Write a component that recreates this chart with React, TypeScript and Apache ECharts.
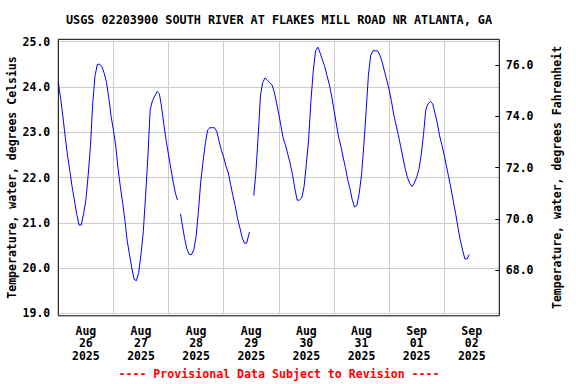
import React, { useEffect, useRef } from "react";
import * as echarts from "echarts";

// Hours since Aug 26 2025 00:00
const hours = [
  0, 1, 2, 3, 4, 5, 6, 7, 8, 9, 10, 11, 12, 13, 14, 15, 16, 17, 18, 19, 20, 21, 22, 23,
  24, 25, 26, 27, 28, 29, 30, 31, 32, 33, 34, 35, 36, 37, 38, 39, 40, 41, 42, 43, 44, 45, 46, 47,
  48, 49, 50, 51, 51.9, 52.5, 53.2, 54, 55, 56, 57, 58, 59, 60, 61, 62, 63, 64, 65, 66, 67, 68, 69, 70, 71,
  72, 73, 74, 75, 76, 77, 78, 79, 80, 81, 82, 83, 83.3, 84.2, 85.1, 86, 87, 88, 89, 90, 91, 92, 93, 94, 95,
  96, 97, 98, 99, 100, 101, 102, 103, 104, 105, 106, 107, 108, 109, 110, 111, 112, 113, 114, 115, 116, 117, 118, 119,
  120, 121, 122, 123, 124, 125, 126, 127, 128, 129, 130, 131, 132, 133, 134, 135, 136, 137, 138, 139, 140, 141, 142, 143,
  144, 145, 146, 147, 148, 149, 150, 151, 152, 153, 154, 155, 156, 157, 158, 159, 160, 161, 162, 163, 164, 165, 166, 167,
  168, 169, 170, 171, 172, 173, 174, 175, 176, 177, 178, 178.9,
];

// Water temperature, degrees Celsius (null = missing record)
const tempC: (number | null)[] = [
  24.1, 23.75, 23.35, 22.9, 22.5, 22.15, 21.8, 21.5, 21.2, 20.95, 20.95, 21.2, 21.5, 22.05, 22.7, 23.65, 24.25, 24.5, 24.5, 24.45, 24.3, 24.1, 23.75, 23.35,
  23.05, 22.7, 22.2, 21.8, 21.45, 21.05, 20.6, 20.3, 20.0, 19.75, 19.72, 19.9, 20.3, 20.8, 21.6, 22.45, 23.5, 23.7, 23.8, 23.9, 23.85, 23.55, 23.15, 22.8,
  22.5, 22.2, 21.9, 21.65, 21.5, null, 21.2, 20.95, 20.65, 20.42, 20.3, 20.3, 20.4, 20.7, 21.25, 21.9, 22.35, 22.75, 23.05, 23.1, 23.1, 23.1, 23.02, 22.8, 22.6,
  22.45, 22.25, 22.1, 21.85, 21.6, 21.38, 21.1, 20.9, 20.68, 20.55, 20.55, 20.75, 20.8, null, 21.6, 22.1, 22.9, 23.8, 24.1, 24.2, 24.15, 24.1, 24.05, 23.9, 23.65,
  23.4, 23.12, 22.85, 22.7, 22.5, 22.3, 22.05, 21.75, 21.5, 21.5, 21.55, 21.8, 22.3, 22.85, 23.7, 24.35, 24.8, 24.88, 24.75, 24.6, 24.45, 24.25, 24.05, 23.8,
  23.5, 23.2, 22.9, 22.7, 22.45, 22.22, 21.95, 21.75, 21.5, 21.35, 21.38, 21.65, 22.05, 22.7, 23.45, 24.25, 24.7, 24.8, 24.8, 24.8, 24.7, 24.55, 24.35, 24.15,
  23.95, 23.7, 23.4, 23.17, 22.95, 22.7, 22.45, 22.2, 22.0, 21.87, 21.8, 21.88, 22.0, 22.18, 22.5, 22.95, 23.5, 23.63, 23.68, 23.63, 23.42, 23.2, 22.92, 22.72,
  22.5, 22.25, 22.0, 21.75, 21.47, 21.2, 20.9, 20.62, 20.4, 20.2, 20.2, 20.3,
];

const dayMonths = ["Aug", "Aug", "Aug", "Aug", "Aug", "Aug", "Sep", "Sep"];
const dayNumbers = ["26", "27", "28", "29", "30", "31", "01", "02"];
const dayYears = ["2025", "2025", "2025", "2025", "2025", "2025", "2025", "2025"];
const fahrenheitTicks = [68, 70, 72, 74, 76];

const titleText = "USGS 02203900 SOUTH RIVER AT FLAKES MILL ROAD NR ATLANTA, GA";
const footerText = "---- Provisional Data Subject to Revision ----";
const leftAxisName = "Temperature, water, degrees Celsius";
const rightAxisName = "Temperature, water, degrees Fahrenheit";

const FONT = "'DejaVu Sans Mono', 'Liberation Mono', monospace";

export default function App() {
  const ref = useRef<HTMLDivElement>(null);

  useEffect(() => {
    if (!ref.current) return;
    const chart = echarts.init(ref.current, undefined, { renderer: "svg" });
    const data = hours.map((h, i) => [h, tempC[i]]);
    const dayCenters = dayNumbers.map((_, i) => 12 + 24 * i);

    chart.setOption({
      animation: false,
      backgroundColor: "#ffffff",
      grid: {
        left: 58.3,
        right: 76.7,
        top: 41.7,
        bottom: 70.7,
        containLabel: false,
        outerBoundsMode: "none",
      },
      xAxis: {
        type: "value",
        min: 0,
        max: 192,
        interval: 24,
        axisLine: { show: false },
        axisTick: { show: false },
        splitLine: { show: true, lineStyle: { color: "#cccccc", width: 1 } },
        axisLabel: {
          customValues: dayCenters,
          margin: 11,
          color: "#000",
          fontFamily: FONT,
          fontWeight: "bold",
          fontSize: 11.5,
          lineHeight: 12.8,
          formatter: (v: number) => {
            const i = Math.round((v - 12) / 24);
            return `${dayMonths[i]}\n${dayNumbers[i]}\n${dayYears[i]}`;
          },
        },
      },
      yAxis: [
        {
          type: "value",
          min: 19,
          max: 25,
          interval: 1,
          position: "left",
          name: leftAxisName,
          nameLocation: "middle",
          nameRotate: 90,
          nameGap: 40,
          nameMoveOverlap: false,
          nameTextStyle: { color: "#000", fontFamily: FONT, fontWeight: "bold", fontSize: 11.5 },
          axisLine: { show: false },
          axisTick: { show: false },
          splitLine: { show: true, lineStyle: { color: "#cccccc", width: 1 } },
          axisLabel: {
            margin: 8,
            color: "#000",
            fontFamily: FONT,
            fontWeight: "bold",
            fontSize: 11.5,
            formatter: (v: number) => v.toFixed(1),
          },
        },
        {
          type: "value",
          min: 66.31,
          max: 76.91,
          position: "right",
          name: rightAxisName,
          nameLocation: "middle",
          nameRotate: 90,
          nameGap: 52,
          nameMoveOverlap: false,
          nameTextStyle: { color: "#000", fontFamily: FONT, fontWeight: "bold", fontSize: 11.5 },
          axisLine: { show: false },
          axisTick: {
            show: true,
            inside: true,
            length: 4,
            customValues: fahrenheitTicks,
            lineStyle: { color: "#000", width: 1 },
          },
          splitLine: { show: false },
          axisLabel: {
            customValues: fahrenheitTicks,
            margin: 6.5,
            color: "#000",
            fontFamily: FONT,
            fontWeight: "bold",
            fontSize: 11.5,
            formatter: (v: number) => v.toFixed(1),
          },
        },
      ],
      graphic: [
        {
          type: "rect",
          shape: { x: 58.3, y: 39.3, width: 441, height: 276.5 },
          style: { fill: "none", stroke: "#000", lineWidth: 1 },
          z: 100,
          silent: true,
        },
        {
          type: "text",
          x: 279,
          y: 20,
          style: {
            text: titleText,
            textAlign: "center",
            textVerticalAlign: "middle",
            fill: "#000",
            font: `bold 11.8px ${FONT}`,
          },
        },
        {
          type: "text",
          x: 279,
          y: 374,
          style: {
            text: footerText,
            textAlign: "center",
            textVerticalAlign: "middle",
            fill: "#ff0000",
            font: `bold 11.6px ${FONT}`,
          },
        },
      ],
      series: [
        {
          type: "line",
          yAxisIndex: 0,
          data,
          showSymbol: false,
          connectNulls: false,
          lineStyle: { color: "#0000ff", width: 1 },
          itemStyle: { color: "#0000ff" },
        },
      ],
    });

    return () => chart.dispose();
  }, []);

  return (
    <div
      ref={ref}
      style={{ position: "fixed", left: 0, top: 0, width: 576, height: 384, background: "#fff" }}
    />
  );
}
